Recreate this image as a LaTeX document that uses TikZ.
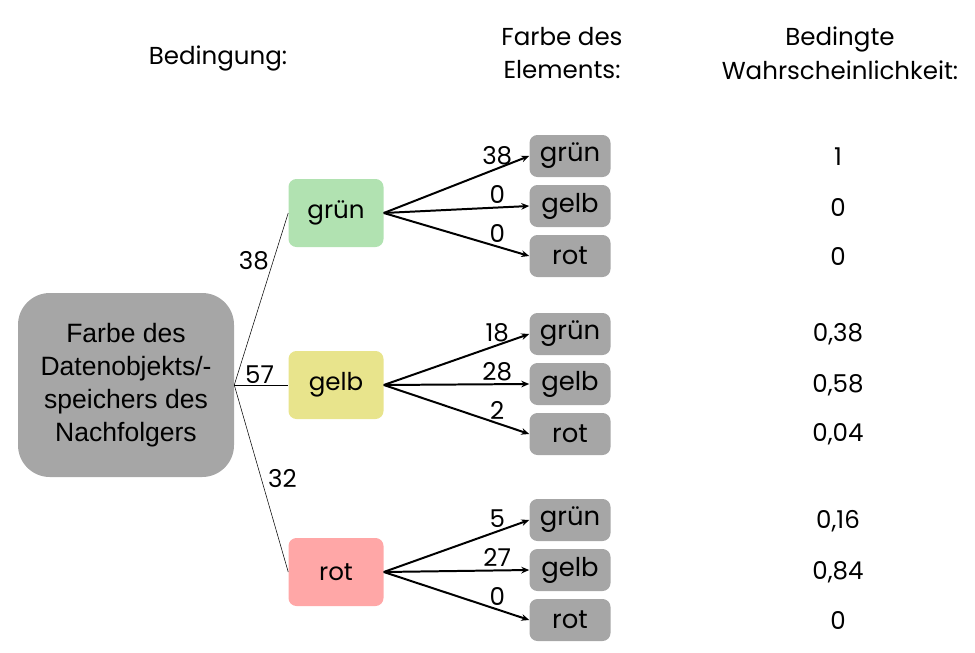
\documentclass[tikz,border=0pt]{standalone}
\usepackage{fontspec}
\setmainfont{Poppins}
\newfontfamily\arialfont{Liberation Sans}
\usepackage{tikz}
\usetikzlibrary{arrows.meta}

\definecolor{boxgray}{HTML}{A6A6A6}
\definecolor{gruenfill}{HTML}{B1E2B1}
\definecolor{gelbfill}{HTML}{E8E48C}
\definecolor{rotfill}{HTML}{FFA7A7}

\begin{document}
\begin{tikzpicture}[x=0.0265cm,y=-0.0265cm,
  font=\fontsize{18.5}{22}\selectfont,
  root/.style={shape=rectangle,rounded corners=24pt,fill=boxgray,minimum width=216*0.0265cm,minimum height=184*0.0265cm,align=center,font=\arialfont\fontsize{20}{24.8}\selectfont},
  level/.style={shape=rectangle,rounded corners=6pt,minimum width=95*0.0265cm,minimum height=68*0.0265cm},
  leaf/.style={shape=rectangle,rounded corners=6pt,fill=boxgray,minimum width=81*0.0265cm,minimum height=42*0.0265cm,inner sep=0pt,font=\fontsize{19.5}{22}\selectfont},
  branch/.style={line width=1.5pt,-{Stealth[length=6pt,width=5pt]}},
  lbl/.style={above,inner sep=2pt,pos=0.78},
  head/.style={align=center,font=\fontsize{18.5}{25.5}\selectfont}]
\useasboundingbox (0,0) rectangle (975,653);
% headers
\node[head] (h1) at (218,58) {Bedingung:};
\node[head] (h2) at (562,53) {Farbe des\\Elements:};
\node[head] (h3) at (840,53) {Bedingte\\Wahrscheinlichkeit:};
% root and first level
\node[root] (R) at (126,385) {Farbe des\\Datenobjekts/-\\speichers des\\Nachfolgers};
\node[level,fill=gruenfill] (G) at (336,213) {grün};
\node[level,fill=gelbfill] (Y) at (336,385) {gelb};
\node[level,fill=rotfill] (T) at (336,572) {rot};
\path [] (R.east) edge node[pos=0.72,left,inner sep=3pt] {38} (G.west);
\path [] (R.east) edge node[pos=0.47,above,inner sep=1pt] {57} (Y.west);
\path [] (R.east) edge node[pos=0.5,right,inner sep=5pt] {32} (T.west);
% leaves of gruen
\node[leaf] (Gg) at (570,156) {grün};
\node[leaf] (Gy) at (570,206) {gelb};
\node[leaf] (Gr) at (570,256) {rot};
\path [branch] (G.east) edge node[lbl] {38} (Gg.west);
\path [branch] (G.east) edge node[lbl] {0} (Gy.west);
\path [branch] (G.east) edge node[lbl] {0} (Gr.west);
% leaves of gelb
\node[leaf] (Yg) at (570,334) {grün};
\node[leaf] (Yy) at (570,384) {gelb};
\node[leaf] (Yr) at (570,434) {rot};
\path [branch] (Y.east) edge node[lbl] {18} (Yg.west);
\path [branch] (Y.east) edge node[lbl] {28} (Yy.west);
\path [branch] (Y.east) edge node[lbl] {2} (Yr.west);
% leaves of rot
\node[leaf] (Tg) at (570,520) {grün};
\node[leaf] (Ty) at (570,570) {gelb};
\node[leaf] (Tr) at (570,620) {rot};
\path [branch] (T.east) edge node[lbl] {5} (Tg.west);
\path [branch] (T.east) edge node[lbl] {27} (Ty.west);
\path [branch] (T.east) edge node[lbl] {0} (Tr.west);
% probabilities
\node (p1) at (838,157) {1};
\node (p2) at (838,207) {0};
\node (p3) at (838,256) {0};
\node (p4) at (838,334) {0,38};
\node (p5) at (838,385) {0,58};
\node (p6) at (838,434) {0,04};
\node (p7) at (838,521) {0,16};
\node (p8) at (838,572) {0,84};
\node (p9) at (838,620) {0};
\end{tikzpicture}
\end{document}
